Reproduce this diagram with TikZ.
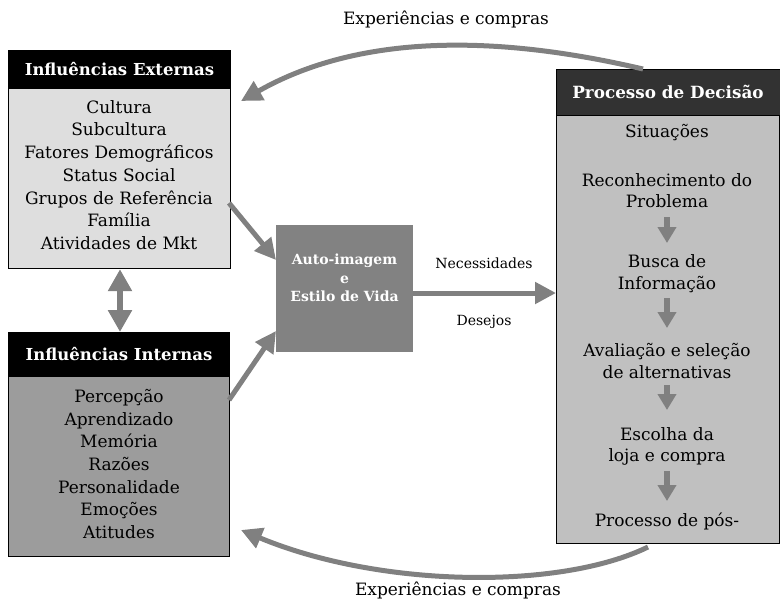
\documentclass[tikz,border=0pt]{standalone}
\usepackage{fontspec}
\setmainfont{DejaVu Serif}
\usetikzlibrary{arrows.meta}
\definecolor{arrowgray}{HTML}{808080}
\definecolor{extfill}{HTML}{DEDEDE}
\definecolor{intfill}{HTML}{9C9C9C}
\definecolor{midfill}{HTML}{828282}
\definecolor{procHead}{HTML}{323232}
\definecolor{procBody}{HTML}{C0C0C0}
\tikzset{
  hdr/.style={draw=black, line width=1pt, text=white, inner sep=0pt, anchor=north west,
    font=\bfseries\fontsize{16.5}{19}\selectfont},
  bodybox/.style={draw=black, line width=1.2pt, inner sep=0pt, anchor=north west},
  bodytext/.style={align=center, inner sep=0pt, font=\fontsize{17}{22.7}\selectfont},
  proctext/.style={align=center, inner sep=0pt, font=\fontsize{17}{21.5}\selectfont},
  bigarrow/.style={draw=arrowgray, line width=5pt, -{Triangle[length=21pt,width=21pt]}},
  twoarrow/.style={draw=arrowgray, line width=6pt, {Triangle[length=22pt,width=23pt]}-{Triangle[length=22pt,width=23pt]}},
  smallarrow/.style={draw=arrowgray, line width=6pt, -{Triangle[length=16pt,width=18pt]}},
  lbl/.style={inner sep=0pt, font=\fontsize{14}{16}\selectfont},
  biglbl/.style={inner sep=0pt, font=\fontsize{17}{19}\selectfont}
}
\begin{document}
\begin{tikzpicture}[x=1pt,y=-1pt]
\useasboundingbox (0,0) rectangle (780,603);
% Influencias Externas
\node[hdr, fill=black, minimum width=222pt, minimum height=38pt] (exth) at (8,50) {Influências Externas};
\node[bodybox, fill=extfill, minimum width=222pt, minimum height=180pt] (extb) at (8,88) {};
\node[bodytext] (extt) at (119,175) {Cultura\\Subcultura\\Fatores Demográficos\\Status Social\\Grupos de Referência\\Família\\Atividades de Mkt};
% Influencias Internas
\node[hdr, fill=black, minimum width=221pt, minimum height=44pt] (inth) at (8,332) {Influências Internas};
\node[bodybox, fill=intfill, minimum width=221pt, minimum height=180pt] (intb) at (8,376) {};
\node[bodytext] (intt) at (119,464) {Percepção\\Aprendizado\\Memória\\Razões\\Personalidade\\Emoções\\Atitudes};
% Center box
\node[draw=none, fill=midfill, inner sep=0pt, anchor=north west, minimum width=137pt, minimum height=127pt] (mid) at (276,225) {};
\node[align=center, text=white, inner sep=0pt, font=\bfseries\fontsize{14}{18.5}\selectfont] (midt) at (344.5,278) {Auto-imagem\\e\\Estilo de Vida};
% Processo de Decisao
\node[hdr, fill=procHead, minimum width=224pt, minimum height=46pt, font=\bfseries\fontsize{16.8}{19}\selectfont] (proch) at (555.5,68.5) {Processo de Decisão};
\node[bodybox, fill=procBody, minimum width=223pt, minimum height=428pt] (procb) at (556,114.5) {};
\node[proctext] (p1) at (667,133) {Situações};
\node[proctext] (p2) at (667,190.5) {Reconhecimento do\\Problema};
\node[proctext] (p3) at (667,273.5) {Busca de\\Informação};
\node[proctext] (p4) at (667,361) {Avaliação e seleção\\de alternativas};
\node[proctext] (p5) at (667,446.5) {Escolha da\\loja e compra};
\node[proctext] (p6) at (667,521) {Processo de pós-};
\draw[smallarrow] (p2.south |- 0,217) -- (p2.south |- 0,243);
\draw[smallarrow] (p3.south |- 0,298) -- (p3.south |- 0,328);
\draw[smallarrow] (p4.south |- 0,385) -- (p4.south |- 0,410);
\draw[smallarrow] (p5.south |- 0,471) -- (p5.south |- 0,501);
% arrows
\coordinate (extOut) at (229,203);
\coordinate (intOut) at (229,400);
\draw[bigarrow] (extOut) -- (mid.west |- 0,260);
\draw[bigarrow] (intOut) -- (mid.west |- 0,331);
\draw[twoarrow] (extb.south -| 120,0) -- (inth.north -| 120,0);
\draw[bigarrow] (mid.east |- 0,293) -- (procb.west |- 0,293);
\node[lbl] (nec) at (484,263) {Necessidades};
\node[lbl] (des) at (484,322) {Desejos};
% curved arrows
\coordinate (topStart) at (643,69);
\coordinate (topEnd) at (241,101);
\draw[bigarrow] (topStart) .. controls (540,45) and (380,22) .. (topEnd);
\node[biglbl] (toplbl) at (446,19) {Experiências e compras};
\coordinate (botStart) at (648,547);
\coordinate (botEnd) at (241,530);
\draw[bigarrow] (botStart) .. controls (560,590) and (380,588) .. (botEnd);
\node[biglbl] (botlbl) at (458,590) {Experiências e compras};
\end{tikzpicture}
\end{document}
